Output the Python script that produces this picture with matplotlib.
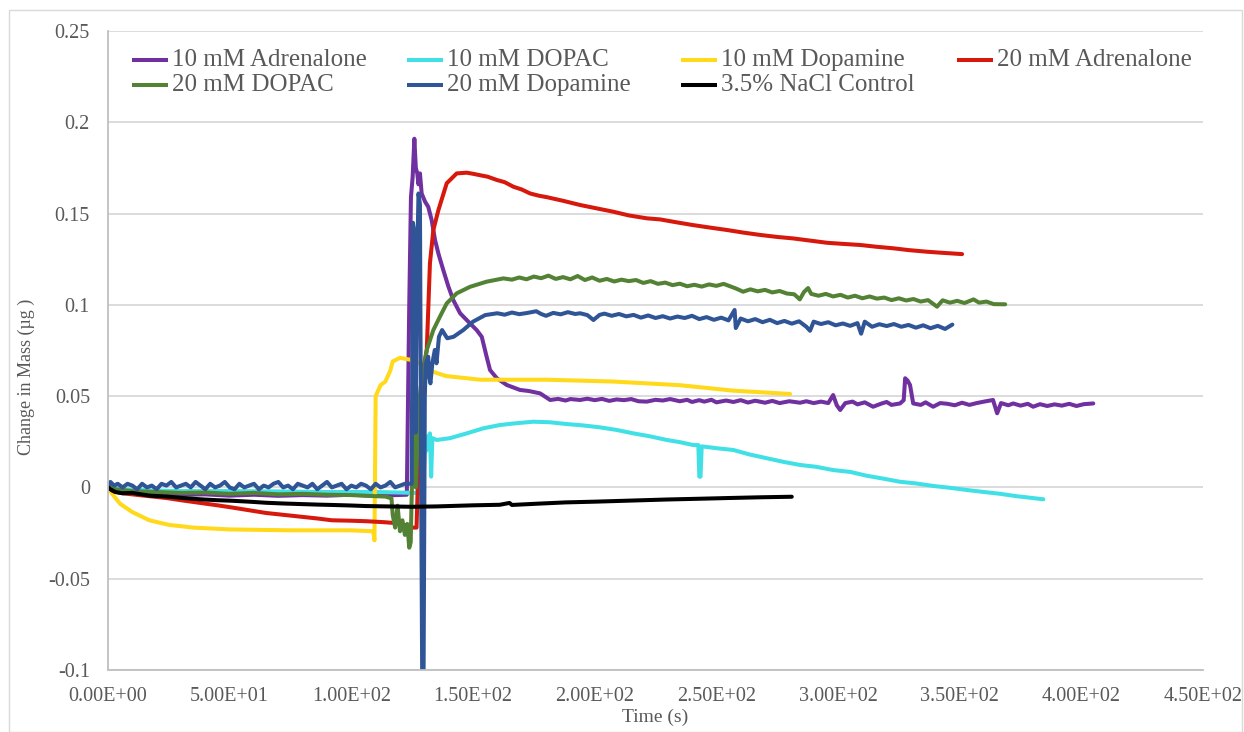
import matplotlib
matplotlib.use("Agg")
import matplotlib.pyplot as plt
from matplotlib.patches import Rectangle
from matplotlib.lines import Line2D

plt.rcParams['font.family'] = ['Liberation Serif', 'DejaVu Serif']

# ---- 10 mM Adrenalone ----
adr10_t = [0, 2, 10, 20, 30, 40, 50, 60, 70, 80, 90, 100, 110, 118, 122.8,
           123.8, 124.5, 125.2, 125.9, 126.5, 127.1, 127.6, 128.2, 128.9, 130.3, 131.6, 133, 134.4,
           135.8, 137.8, 139.9, 141.9, 144.7, 147.4, 151.5, 153.6, 155.6, 157, 159.8, 163.9,
           169.3, 173, 177.6, 181.7, 185, 188, 190, 194, 197, 200, 203, 206, 209, 212, 215, 218,
           221.4, 225, 228, 231, 235, 238, 240, 243, 245, 248, 250, 254, 257, 260, 263, 266, 270,
           273, 276, 280, 284.4, 287, 290, 293, 296, 298, 299.5, 300.9, 303, 306, 308, 311,
           314.4, 318, 320, 322, 325.5, 327, 327.6, 328.6, 329.6, 330.9, 334, 336, 339.1, 342,
           345, 348, 351, 354, 357, 360, 363.7, 365.4, 367, 370, 372, 375, 378, 380.2, 383, 386,
           389, 392, 395, 398, 401, 404.9]
adr10_v = [0, -0.002, -0.003, -0.0035, -0.004, -0.0038, -0.0045, -0.004, -0.0046, -0.0042,
           -0.0045, -0.004, -0.0046, -0.0042, -0.004,
           0.100, 0.159, 0.170, 0.191, 0.175, 0.172, 0.166, 0.172, 0.161, 0.1565, 0.1537, 0.1465,
           0.1355, 0.128, 0.119, 0.110, 0.1026, 0.0954, 0.0917, 0.0862, 0.0825, 0.0716, 0.0643,
           0.0598, 0.0561, 0.0534, 0.0528, 0.0515, 0.0479, 0.0485, 0.0476, 0.0484, 0.0479,
           0.0486, 0.0478, 0.0485, 0.0474, 0.0482, 0.0478, 0.0484, 0.0472, 0.0470, 0.0480,
           0.0476, 0.0484, 0.0472, 0.0480, 0.0468, 0.0478, 0.0470, 0.0480, 0.0466, 0.0476,
           0.0468, 0.0478, 0.0465, 0.0475, 0.0464, 0.0474, 0.0462, 0.0472, 0.0464, 0.0472,
           0.0462, 0.0470, 0.0462, 0.0506, 0.0450, 0.0424, 0.0462, 0.0470, 0.0455, 0.0466,
           0.0442, 0.0460, 0.0468, 0.0452, 0.0460, 0.0478, 0.0598, 0.0585, 0.0561, 0.0460,
           0.0452, 0.0466, 0.0442, 0.0462, 0.0458, 0.0450, 0.0464, 0.0452, 0.0462, 0.0470,
           0.0479, 0.0406, 0.0462, 0.0450, 0.0460, 0.0448, 0.0458, 0.0442, 0.0456, 0.0446,
           0.0455, 0.0448, 0.0458, 0.0446, 0.0456, 0.0460]

# ---- 10 mM DOPAC ----
dopac10_t = [0, 5, 15, 30, 50, 70, 90, 110, 120, 126, 129.5, 130.3, 130.8, 131.3, 131.8,
             132.3, 132.8, 133.3, 135.1, 140.6, 147.4, 154.3, 161.1, 168, 174.8, 181.6, 188.5,
             195, 202.2, 209, 215.9, 222.7, 229.6, 235, 240.6, 242.6, 243.0, 243.5, 244, 250,
             257, 263.8, 270.7, 277.6, 284.4, 291, 298.1, 305, 311.8, 318.7, 325.5, 332, 339.2,
             346, 352.9, 360, 366.6, 373.4, 378, 384.4]
dopac10_v = [0.001, -0.001, -0.0015, -0.002, -0.002, -0.0022, -0.0025, -0.0025, -0.0028,
             -0.003, -0.003, 0.025, 0.020, 0.028, 0.024, 0.0296, 0.0059, 0.027, 0.026, 0.027,
             0.0296, 0.0324, 0.0342, 0.0352, 0.036, 0.0357, 0.0347, 0.034, 0.0329, 0.0315,
             0.0296, 0.028, 0.026, 0.0248, 0.0232, 0.0232, 0.0059, 0.0059, 0.0225, 0.0215,
             0.0205, 0.018, 0.016, 0.014, 0.0123, 0.0113, 0.0095, 0.0085, 0.0064, 0.0048,
             0.0031, 0.0022, 0.0008, -0.0002, -0.0014, -0.0025, -0.0035, -0.0048, -0.0055,
             -0.0065]

# ---- 10 mM Dopamine ----
dop10_t = [0, 2, 5, 10, 17, 25, 35, 50, 75, 100, 109, 109.5, 110, 111, 112, 114, 116, 117,
           120, 124, 128, 132, 139, 153, 180, 207.6, 235, 257, 280.3]
dop10_v = [0, -0.004, -0.009, -0.0135, -0.018, -0.0205, -0.022, -0.023, -0.0235, -0.0235,
           -0.024, -0.029, 0.050, 0.053, 0.056, 0.058, 0.064, 0.069, 0.071, 0.070, 0.068,
           0.064, 0.061, 0.059, 0.059, 0.058, 0.056, 0.053, 0.0512]

# ---- 20 mM Adrenalone ----
adr20_t = [0, 2, 5, 10, 17, 24, 31, 38, 45, 51, 58, 65, 72, 79, 86, 92, 99, 106, 113, 118,
           122, 125, 126.8, 127.5, 128.5, 130, 131, 132.3, 133.7, 135.8, 139.2, 143.3, 147.4,
           150, 152.9, 156, 159.8, 163, 166.6, 170, 173.5, 177, 180.3, 187, 194, 201, 207.7,
           214, 221.4, 226.9, 233.7, 240.4, 247, 254.4, 261, 268, 275, 281.5, 288.5, 295.5,
           302, 309.1, 316, 322.6, 329, 336.6, 343, 351]
adr20_v = [0, -0.002, -0.003, -0.0038, -0.0048, -0.0058, -0.0072, -0.0085, -0.0098, -0.011,
           -0.0125, -0.014, -0.015, -0.016, -0.017, -0.018, -0.0182, -0.0185, -0.019, -0.0195,
           -0.0205, -0.022, -0.022, 0.010, 0.040, 0.068, 0.0753, 0.1227, 0.141, 0.152, 0.1666,
           0.172, 0.1724, 0.1718, 0.171, 0.1702, 0.1684, 0.1672, 0.1647, 0.1632, 0.161,
           0.1598, 0.159, 0.157, 0.1547, 0.1528, 0.151, 0.149, 0.1474, 0.1468, 0.1452, 0.1437,
           0.1424, 0.141, 0.1396, 0.1383, 0.1372, 0.1364, 0.1352, 0.134, 0.1334, 0.1328,
           0.1318, 0.131, 0.130, 0.1291, 0.1285, 0.1278]

# ---- 20 mM DOPAC ----
dopac20_t = [0, 1, 3, 10, 20, 30, 40, 50, 60, 70, 80, 90, 100, 105, 110, 114, 116.5, 117,
             118, 119, 120, 121, 122, 123, 123.8, 124.4, 124.8, 125.5, 126.5, 127.5, 128.5,
             130.3, 131, 133.7, 136.4, 139.2, 143.3, 148.8, 155.6, 162.5, 166, 169, 172, 175,
             178, 181, 184, 187, 190, 193, 196, 199, 202, 205, 208, 211, 214, 217, 220, 223,
             226, 229, 232, 235, 238, 241, 244, 247, 250, 253, 255, 258, 261, 264, 267, 270,
             273, 276, 279, 282, 284.3, 286, 287.7, 289, 292, 295, 298, 301, 304, 307, 310,
             313, 316, 319, 322, 325, 328, 331, 334, 337, 340.7, 343, 346, 349, 352, 355.7,
             358, 361, 364, 368.7]
dopac20_v = [0, 0.001, -0.001, -0.002, -0.0025, -0.003, -0.0028, -0.0035, -0.003, -0.0038,
             -0.0035, -0.004, -0.0042, -0.0045, -0.0048, -0.005, -0.006, -0.015, -0.022,
             -0.010, -0.024, -0.018, -0.026, -0.020, -0.033, -0.030, -0.005, 0.030, 0.000,
             0.040, 0.055, 0.0698, 0.0753, 0.0862, 0.0935, 0.1008, 0.1063, 0.1099, 0.1127,
             0.1145, 0.1138, 0.1150, 0.1140, 0.1155, 0.1146, 0.1160, 0.1142, 0.1152, 0.1140,
             0.1158, 0.1136, 0.1150, 0.1132, 0.1142, 0.1128, 0.1138, 0.1130, 0.1136, 0.1120,
             0.1130, 0.1115, 0.1122, 0.1108, 0.1116, 0.1102, 0.1110, 0.1100, 0.1112, 0.1104,
             0.1115, 0.1105, 0.1090, 0.1072, 0.1085, 0.1074, 0.1082, 0.1068, 0.1076, 0.1062,
             0.1058, 0.1030, 0.1070, 0.1092, 0.1060, 0.1050, 0.1060, 0.1046, 0.1055, 0.1040,
             0.1050, 0.1036, 0.1046, 0.1034, 0.1040, 0.1026, 0.1036, 0.1024, 0.1032, 0.1018,
             0.1026, 0.0990, 0.1025, 0.1012, 0.1022, 0.1010, 0.1030, 0.1012, 0.1018, 0.1004,
             0.1003]

# ---- 20 mM Dopamine ----
dop20_t = [0, 1, 2.5, 4, 6, 8, 10, 12, 14, 16, 18, 20, 22, 24, 26, 28, 30, 32, 34, 36, 38,
           40, 42, 44, 46, 48, 50, 52, 54, 56, 58, 60, 62, 64, 66, 68, 70, 72, 74, 76, 78, 80,
           82, 84, 86, 88, 90, 92, 94, 96, 98, 100, 102, 104, 106, 108, 110, 112, 114, 116,
           118, 120, 122, 124.8, 125.3, 125.9, 126.4, 127.0, 127.6, 128.2, 128.7, 129.1,
           129.7, 130.2, 130.6, 131.6, 132.0, 132.5, 133.3, 134.3, 135.0, 136.0, 137.3, 139.4,
           142, 146, 150, 155, 160, 163, 166, 169, 172, 176, 178, 180, 183, 186, 189, 192, 194,
           197, 199.5, 202, 204, 207, 210, 213, 216, 219, 222, 225, 228, 231, 234, 237, 240,
           243, 246, 249, 252, 255, 257.5, 258, 260, 263, 266, 269, 272, 275, 278, 281, 284,
           287, 288.5, 290, 293, 296, 299, 302, 305, 308, 309.5, 311, 314, 317, 320, 323, 326,
           329, 332, 335, 338, 341, 344, 347]
dop20_v = [0.000, 0.003, 0.001, 0.002, 0.000, 0.002, 0.001, -0.001, 0.002, 0.000, 0.001,
           -0.001, 0.002, 0.001, 0.003, 0.000, 0.001, 0.002, 0.000, 0.003, 0.001, -0.001,
           0.002, 0.000, 0.001, 0.003, 0.000, -0.001, 0.002, 0.000, 0.001, 0.002, -0.001,
           0.001, 0.000, 0.002, 0.003, 0.000, 0.001, -0.001, 0.002, 0.001, 0.000, 0.002,
           -0.001, 0.001, 0.003, 0.000, 0.001, 0.002, -0.001, 0.001, 0.000, 0.002, 0.001,
           -0.001, 0.002, 0.000, 0.001, 0.003, 0.000, 0.001, 0.002, 0.002, 0.145, 0.140,
           0.030, 0.120, 0.161, 0.155, 0.000, -0.100, -0.100, 0.050, 0.068, 0.0716, 0.0606,
           0.057, 0.068, 0.0753, 0.068, 0.0825, 0.0862, 0.0817, 0.0825, 0.0862, 0.0908,
           0.0944, 0.0954, 0.0946, 0.0958, 0.0949, 0.0955, 0.0965, 0.0950, 0.0940, 0.0956,
           0.0948, 0.0960, 0.0950, 0.0954, 0.0944, 0.0917, 0.0945, 0.0952, 0.0940, 0.0950,
           0.0937, 0.0945, 0.0930, 0.0942, 0.0928, 0.0938, 0.0925, 0.0936, 0.0928, 0.0940,
           0.0922, 0.0933, 0.0918, 0.0930, 0.0915, 0.0972, 0.0873, 0.0925, 0.0910, 0.0922,
           0.0905, 0.0918, 0.0900, 0.0912, 0.0897, 0.0910, 0.0880, 0.0858, 0.0908, 0.0895,
           0.0905, 0.0888, 0.0898, 0.0885, 0.0900, 0.0842, 0.0908, 0.0880, 0.0894, 0.0884,
           0.0895, 0.0880, 0.0890, 0.0875, 0.0888, 0.0872, 0.0885, 0.0868, 0.0892]

# ---- 3.5% NaCl Control ----
nacl_t = [0, 1, 3, 6, 10, 17, 24, 31, 38, 45, 51, 58, 65, 72, 79, 86, 92, 100, 106, 115,
          125, 135, 150, 161, 165, 166, 175, 188, 200, 215, 230, 243, 255, 268, 281]
nacl_v = [0, -0.001, -0.0025, -0.0032, -0.003, -0.0045, -0.005, -0.0058, -0.0065, -0.007,
          -0.0073, -0.0078, -0.0084, -0.0088, -0.0091, -0.0094, -0.0096, -0.0099, -0.0102,
          -0.0104, -0.0106, -0.0104, -0.0098, -0.0095, -0.0085, -0.0096, -0.009, -0.0082,
          -0.0078, -0.0072, -0.0066, -0.0062, -0.0058, -0.0054, -0.0051]

series = [
    ("10 mM Adrenalone", adr10_t, adr10_v, "#7030A0"),
    ("10 mM DOPAC", dopac10_t, dopac10_v, "#40E0E6"),
    ("10 mM Dopamine", dop10_t, dop10_v, "#FFD91A"),
    ("20 mM Adrenalone", adr20_t, adr20_v, "#D7180C"),
    ("20 mM DOPAC", dopac20_t, dopac20_v, "#548235"),
    ("20 mM Dopamine", dop20_t, dop20_v, "#2F5597"),
    ("3.5% NaCl Control", nacl_t, nacl_v, "#000000"),
]

y_ticks = [-0.1, -0.05, 0, 0.05, 0.1, 0.15, 0.2, 0.25]
y_tick_labels = ["-0.1", "-0.05", "0", "0.05", "0.1", "0.15", "0.2", "0.25"]
x_ticks = [0, 50, 100, 150, 200, 250, 300, 350, 400, 450]
x_tick_labels = ["0.00E+00", "5.00E+01", "1.00E+02", "1.50E+02", "2.00E+02",
                 "2.50E+02", "3.00E+02", "3.50E+02", "4.00E+02", "4.50E+02"]

W, H = 1244, 732
LW = 2.9
fig = plt.figure(figsize=(W / 100, H / 100), dpi=100)
fig.patches.append(Rectangle((9 / W, 0), (1242 - 9) / W, 1 - 10 / H,
                             transform=fig.transFigure, fill=False,
                             edgecolor="#D9D9D9", linewidth=1.0))

ax = fig.add_axes([108 / W, 1 - 670 / H, (1203 - 108) / W, (670 - 31) / H])

for name, t, v, c in series:
    ax.plot(t, v, color=c, linewidth=LW, solid_joinstyle="round",
            solid_capstyle="round", label=name)

ax.set_xlim(0, 450)
ax.set_ylim(-0.1, 0.25)
ax.set_yticks(y_ticks)
ax.set_yticklabels(y_tick_labels)
ax.set_xticks(x_ticks)
ax.set_xticklabels(x_tick_labels)
ax.tick_params(axis="both", length=0, labelsize=14.5, colors="#595959")
ax.tick_params(axis="y", pad=13)
ax.tick_params(axis="x", pad=12)
ax.grid(axis="y", color="#D9D9D9", linewidth=1.3)
ax.set_axisbelow(True)
for s in ["top", "right"]:
    ax.spines[s].set_visible(False)
for s in ["left", "bottom"]:
    ax.spines[s].set_color("#BFBFBF")
    ax.spines[s].set_linewidth(1.3)

ax.set_xlabel("Time (s)", fontsize=14, color="#595959", labelpad=2)
ax.set_ylabel("Change in Mass (µg )", fontsize=13, color="#595959")
ax.yaxis.set_label_coords((35 - 108) / (1203 - 108), (670 - 377) / (670 - 31))

# Legend laid out in a fixed 4-column grid (row-major order)
legend_cols = [132, 407, 681, 957]
legend_rows = [60, 85]
for i, (name, t, v, c) in enumerate(series):
    r, col = divmod(i, 4)
    x0 = legend_cols[col]
    y = 1 - legend_rows[r] / H
    fig.add_artist(Line2D([x0 / W, (x0 + 36) / W], [y, y], color=c, linewidth=LW,
                          solid_capstyle="butt", transform=fig.transFigure))
    fig.text((x0 + 40) / W, y, name, fontsize=18, color="#595959",
             ha="left", va="center")

fig.savefig("out.png", dpi=100)
